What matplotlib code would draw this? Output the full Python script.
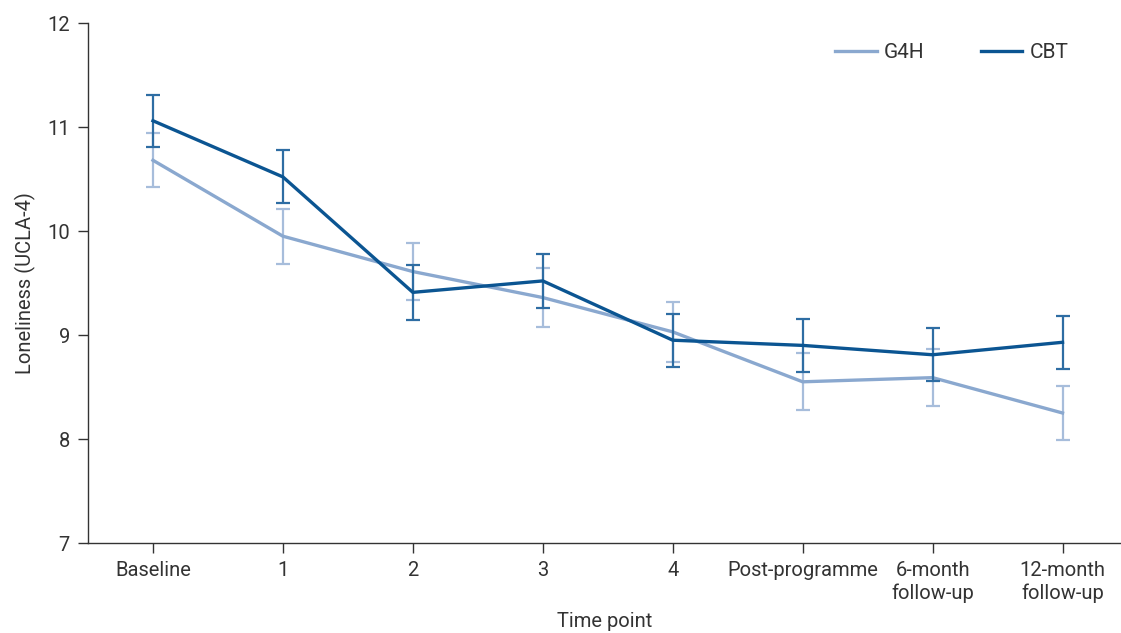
import matplotlib
matplotlib.use("Agg")
import matplotlib.pyplot as plt
import numpy as np

time_points = ["Baseline", "1", "2", "3", "4", "Post-programme",
               "6-month\nfollow-up", "12-month\nfollow-up"]

g4h_mean = [10.68, 9.95, 9.61, 9.36, 9.03, 8.55, 8.59, 8.25]
g4h_err = [0.26, 0.265, 0.275, 0.285, 0.285, 0.275, 0.275, 0.255]

cbt_mean = [11.06, 10.52, 9.41, 9.52, 8.95, 8.90, 8.81, 8.93]
cbt_err = [0.25, 0.255, 0.265, 0.26, 0.255, 0.255, 0.255, 0.255]

G4H_COLOR = "#8aa8cf"
CBT_COLOR = "#0b5592"
TEXT_COLOR = "#333333"

plt.rcParams["font.family"] = ["Roboto", "DejaVu Sans"]

fig = plt.figure(figsize=(11.21, 6.33), dpi=100)
ax = fig.add_axes([88 / 1121, 1 - 543 / 633, 1 - 88 / 1121, (543 - 23) / 633])

x = np.arange(len(time_points))

ax.errorbar(x, g4h_mean, yerr=g4h_err, color=G4H_COLOR, lw=2.4,
            ecolor="#a7bddb", elinewidth=1.6, capsize=5, capthick=1.6,
            label="G4H", zorder=2)
ax.errorbar(x, cbt_mean, yerr=cbt_err, color=CBT_COLOR, lw=2.4,
            ecolor="#2e6da3", elinewidth=1.6, capsize=5, capthick=1.6,
            label="CBT", zorder=3)

ax.set_xlim(-0.5, 7.45)
ax.set_ylim(7, 12)
ax.set_yticks([7, 8, 9, 10, 11, 12])
ax.set_xticks(x)
ax.set_xticklabels(time_points)

for side in ["top", "right"]:
    ax.spines[side].set_visible(False)
for side in ["left", "bottom"]:
    ax.spines[side].set_color("#333333")
    ax.spines[side].set_linewidth(1.0)

ax.tick_params(axis="both", direction="out", length=7, width=1,
               color="#333333", labelsize=14.5, labelcolor=TEXT_COLOR, pad=6)

ax.set_ylabel("Loneliness (UCLA-4)", fontsize=14.5, color=TEXT_COLOR, labelpad=8)
ax.set_xlabel("Time point", fontsize=14.5, color=TEXT_COLOR, labelpad=7)

handles, labels = ax.get_legend_handles_labels()
line_handles = [plt.Line2D([], [], color=h[0].get_color(), lw=2.4) for h in handles]
ax.legend(line_handles, labels, loc="center right", ncol=2, frameon=False,
          bbox_to_anchor=(0.97, 1 - 53 / 633), bbox_transform=fig.transFigure,
          handlelength=2.0, handletextpad=0.35, columnspacing=2.7,
          fontsize=15, labelcolor=TEXT_COLOR)

fig.savefig("out.png", dpi=100)
